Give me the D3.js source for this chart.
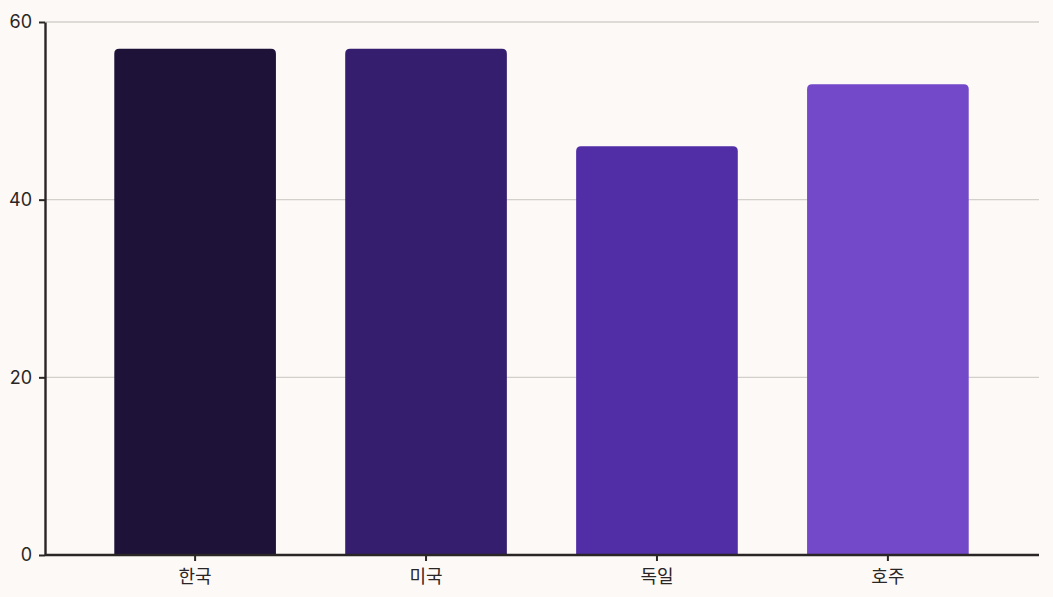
<!DOCTYPE html>
<html><head><meta charset="utf-8">
<script src="https://cdn.jsdelivr.net/npm/d3@7"></script>
<style>
html,body{margin:0;padding:0;background:#fdf9f6;}
svg{display:block;font-family:Inter,"Noto Sans CJK KR",sans-serif;}
</style></head><body>
<svg id="c" width="1053" height="597"></svg>
<script>
const categories = ["한국","미국","독일","호주"];
const values = [57, 57, 46, 53];
const colors = ["#1e1238","#351e6e","#512da6","#7349c9"];
const yTicks = [0,20,40,60];

const W=1053,H=597, m={l:45,r:15,t:22,b:42};
const svg=d3.select("#c");
svg.append("rect").attr("width",W).attr("height",H).attr("fill","#fdf9f6");
const x=d3.scaleBand().domain(categories).range([m.l,W-m.r]).padding(0.3);
const y=d3.scaleLinear().domain([0,60]).range([H-m.b,m.t]);

svg.append("g").selectAll("line").data(yTicks.filter(d=>d>0)).join("line")
  .attr("x1",m.l).attr("x2",W-m.r+1).attr("y1",d=>y(d)).attr("y2",d=>y(d))
  .attr("stroke","#d3cfcb").attr("stroke-width",1.3);

const r=5;
svg.append("g").selectAll("path").data(categories).join("path")
  .attr("fill",(d,i)=>colors[i])
  .attr("d",(d,i)=>{
    const x0=x(d), x1=x(d)+x.bandwidth(), y0=y(values[i]), yb=y(0);
    return `M${x0},${yb}V${y0+r}Q${x0},${y0} ${x0+r},${y0}H${x1-r}Q${x1},${y0} ${x1},${y0+r}V${yb}Z`;
  });

const ya=svg.append("g").attr("transform",`translate(${m.l},0)`)
  .call(d3.axisLeft(y).tickValues(yTicks).tickSize(6).tickPadding(7).tickSizeOuter(0));
const xa=svg.append("g").attr("transform",`translate(0,${y(0)})`)
  .call(d3.axisBottom(x).tickSize(6).tickPadding(9).tickSizeOuter(0));
[ya,xa].forEach(g=>{
  g.selectAll("path").attr("stroke","#2a2626").attr("stroke-width",2.4);
  g.selectAll("line").attr("stroke","#2a2626").attr("stroke-width",2);
  g.selectAll("text").attr("fill","#2a2626").style("font-size","18px")
   .style("font-family","Inter,'Noto Sans CJK KR',sans-serif");
});
xa.select(".domain").attr("d",`M${m.l},0H${W-m.r+1}`);
</script></body></html>
